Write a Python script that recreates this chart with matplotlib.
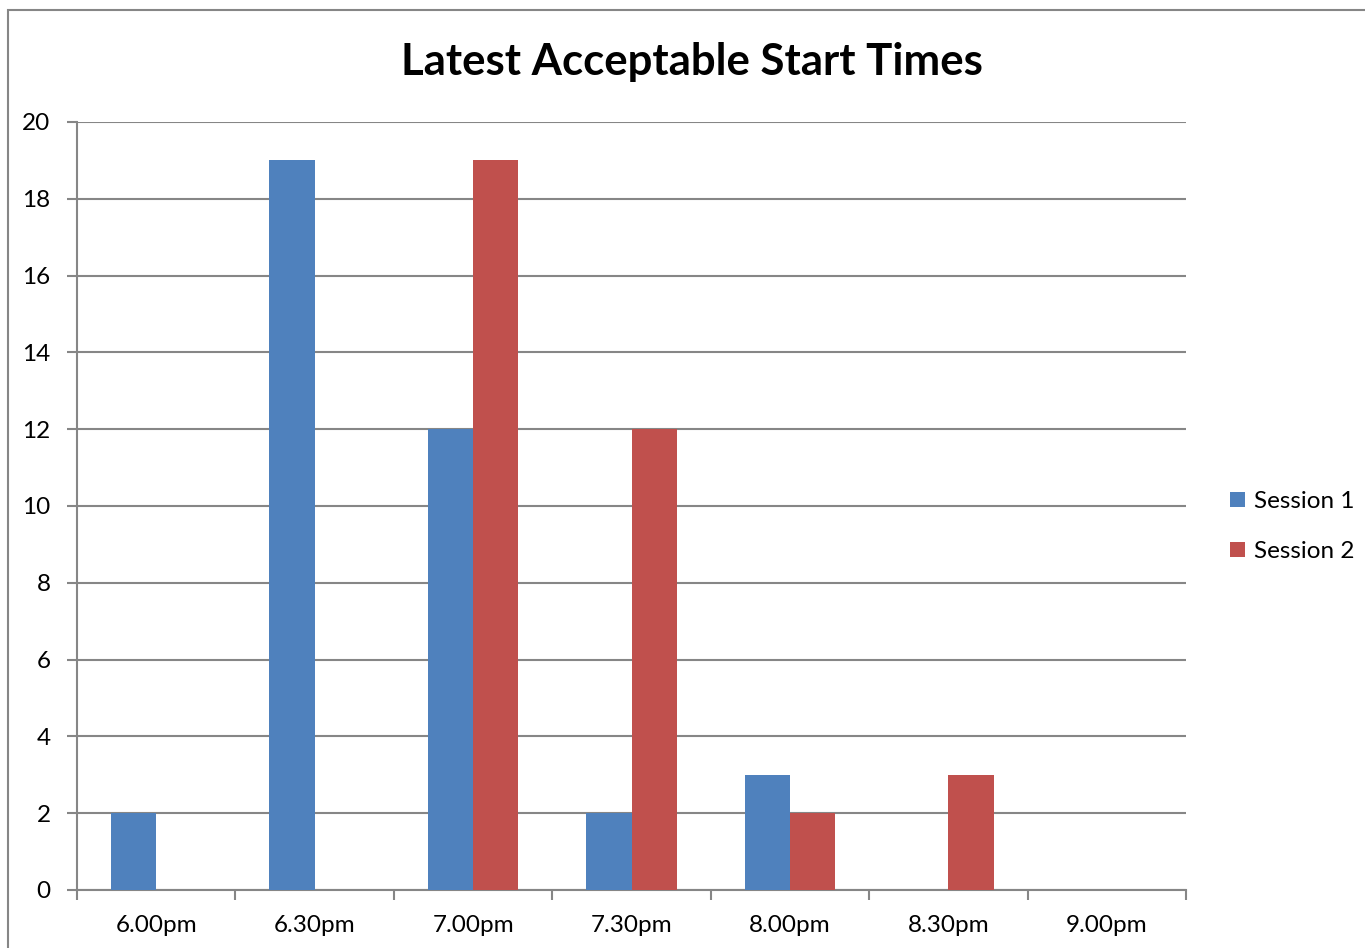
import numpy as np
import matplotlib.pyplot as plt
from matplotlib.patches import Rectangle

plt.rcParams['font.family'] = ['Lato', 'DejaVu Sans']

times = ['6.00pm', '6.30pm', '7.00pm', '7.30pm', '8.00pm', '8.30pm', '9.00pm']
session1 = [2, 19, 12, 2, 3, 0, 0]
session2 = [0, 0, 19, 12, 2, 3, 0]

grey = '#868686'
fig = plt.figure(figsize=(13.65, 9.48), dpi=100)
ax = fig.add_axes([77/1365, 58/948, 1109/1365, 768/948])

# outer chart frame
fig.patches.append(Rectangle((8/1365, -0.1), 1.2, (938/948) + 0.1,
                             transform=fig.transFigure, fill=False,
                             edgecolor=grey, linewidth=1.5))

x = np.arange(len(times))
w = 1 / 3.5
ax.bar(x - w/2, session1, w, color='#4F81BD', label='Session 1', zorder=3)
ax.bar(x + w/2, session2, w, color='#C0504D', label='Session 2', zorder=3)

ax.set_xlim(-0.5, len(times) - 0.5)
ax.set_ylim(0, 20)
ax.set_yticks(range(0, 21, 2))
ax.yaxis.grid(True, color=grey, linewidth=1.5, zorder=0)
ax.set_xticks(np.arange(-0.5, len(times), 1))
ax.set_xticklabels([])
ax.set_xticks(x, times, minor=True)
ax.tick_params(axis='x', which='major', length=7, width=1.5, color=grey, direction='out')
ax.tick_params(axis='x', which='minor', length=0, labelsize=17.5, pad=18)
ax.tick_params(axis='y', length=7, width=1.5, color=grey, labelsize=17.5, pad=12)

for s in ['top', 'right']:
    ax.spines[s].set_visible(False)
for s in ['left', 'bottom']:
    ax.spines[s].set_color(grey)
    ax.spines[s].set_linewidth(1.5)

fig.text(692/1365, 1 - 62/948, 'Latest Acceptable Start Times', ha='center',
         va='center', fontsize=31.5, fontweight='bold')

ax.legend(loc='center left', bbox_to_anchor=(1.02, 0.473), frameon=False,
          fontsize=17.5, handlelength=0.6, handleheight=0.6, handletextpad=0.4,
          labelspacing=1.2)

fig.savefig('out.png')
